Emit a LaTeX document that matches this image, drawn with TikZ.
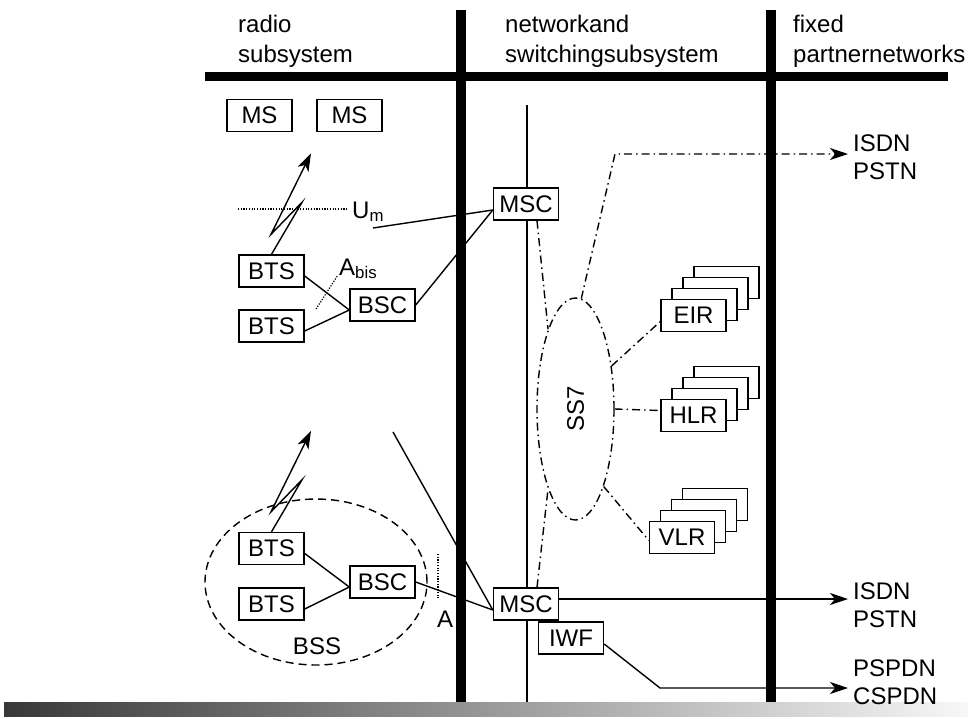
\documentclass[tikz,border=0pt]{standalone}
\usepackage{fontspec}
\setmainfont{Liberation Sans}
\usetikzlibrary{arrows.meta,shapes.geometric}

\begin{document}
\begin{tikzpicture}[
  x=1pt, y=-1pt,
  >={Stealth[length=18pt,width=12pt,inset=5pt]},
  font=\fontsize{24}{28}\selectfont,
  unit/.style={draw, line width=1.4pt, fill=white, minimum width=65pt, minimum height=32pt, inner sep=0pt},
  head/.style={anchor=north west, align=left, inner sep=0pt, font=\fontsize{24}{30}\selectfont},
  ext/.style={anchor=north west, align=left, inner xsep=5pt, inner ysep=0pt},
  lbl/.style={inner sep=0pt},
  bar/.style={line width=9.5pt},
  wire/.style={line width=1.4pt},
  sig/.style={line width=1.4pt, dash pattern=on 8pt off 4pt on 1.5pt off 4pt},
  iface/.style={line width=1.2pt, dash pattern=on 1.2pt off 1.5pt}
]
\useasboundingbox (0,0) rectangle (968,718);

\shade[left color=black!78, right color=black!3] (4,702) rectangle (968,716);

\node[head] (rss) at (238,15) {radio\\subsystem};
\node[head] (nss) at (505,15) {networkand\\switchingsubsystem};
\node[head] (fpn) at (793,15) {fixed\\partnernetworks};

\draw[bar] (205,76.5) -- (948,76.5);
\draw[bar] (461,10) -- (461,702);
\draw[bar] (771,10) -- (771,702);
\draw[wire] (527,105) -- (527,702);

\node[draw, ellipse, line width=1.4pt, dash pattern=on 8pt off 5pt, minimum width=222pt, minimum height=166pt, inner sep=0pt] (bss) at (316,582) {};
\node[lbl] (bsslbl) at (317,646) {BSS};

\node[unit] (ms1) at (259.5,115.5) {MS};
\node[unit] (ms2) at (349.5,115.5) {MS};
\node[unit] (bts1) at (271.5,271) {BTS};
\node[unit] (bts2) at (271.5,326) {BTS};
\node[unit] (bsc1) at (382.5,305) {BSC};
\node[unit] (bts3) at (271.5,548.5) {BTS};
\node[unit] (bts4) at (271.5,604) {BTS};
\node[unit] (bsc2) at (382.5,582) {BSC};
\node[unit] (msc1) at (526,204) {MSC};
\node[unit] (msc2) at (526,604) {MSC};
\node[unit] (iwf) at (571,638) {IWF};

\foreach \k in {3,2,1} {
  \node[unit] (eir\k) at ({693.5+11*\k},{315.5-11*\k}) {};
  \node[unit] (hlr\k) at ({693.5+11*\k},{415.5-11*\k}) {};
  \node[unit] (vlr\k) at ({682+11*\k},{537.5-11*\k}) {};
}
\node[unit] (eir) at (693.5,315.5) {EIR};
\node[unit] (hlr) at (693.5,415.5) {HLR};
\node[unit] (vlr) at (682,537.5) {VLR};

\node[draw, ellipse, sig, minimum width=77pt, minimum height=222pt, inner sep=0pt] (ss7) at (575.5,409) {\rotatebox{90}{SS7}};

\node[ext] (isdn1) at (848,135) {ISDN\\PSTN};
\node[ext] (isdn2) at (848,583) {ISDN\\PSTN};
\node[ext] (pspdn) at (848,660) {PSPDN\\CSPDN};

\draw[wire] ([yshift=-5pt]bts1.east) -- ([yshift=-5pt]bsc1.west);
\draw[wire] ([yshift=-5pt]bts2.east) -- ([yshift=-5pt]bsc1.west);
\draw[wire] ([yshift=-5pt]bts3.east) -- ([yshift=-5pt]bsc2.west);
\draw[wire] ([yshift=-5pt]bts4.east) -- ([yshift=-5pt]bsc2.west);
\draw[wire] (bsc1.east) -- ([yshift=-6pt]msc1.west);
\draw[wire] (bsc2.east) -- ([yshift=-6pt]msc2.west);
\coordinate (far1) at (373,228);
\coordinate (far2) at (393,432);
\draw[wire] (far1) -- ([yshift=-6pt]msc1.west);
\draw[wire] (far2) -- ([yshift=-6pt]msc2.west);
\draw[wire,->] (bts1.north) -- ++(30.5,-52) -- ++(-31,32) -- ++(40,-81);
\draw[wire,->] (bts3.north) -- ++(30.5,-52) -- ++(-31,32) -- ++(40,-81);

\draw[iface] (238,209) -- (348,209);
\node[lbl, anchor=base west] (um) at (352,218) {U\textsubscript{m}};
\draw[iface] (316,309) -- (338,275);
\node[lbl, anchor=base west] (abis) at (339,275) {A\textsubscript{bis}};
\draw[iface] (438,554) -- (438,599);
\node[lbl, anchor=base west] (aif) at (437,627) {A};

\coordinate (sigturn) at (615,154);
\draw[sig] ([xshift=11pt]msc1.south) -- (ss7.109);
\draw[sig] ([xshift=11pt]msc2.north) -- (ss7.251);
\draw[sig,->] (ss7.87) -- (sigturn) -- (sigturn -| isdn1.west);
\draw[sig] (ss7.50) -- ([yshift=-6pt]eir.west);
\draw[sig] (ss7.0) -- ([yshift=5pt]hlr.west);
\draw[sig] (ss7.-70) -- ([yshift=-3pt]vlr.west);

\coordinate (isdnout) at ([yshift=5pt]msc2.east);
\draw[wire,->] (isdnout) -- (isdnout -| isdn2.west);
\coordinate (iwfout) at ([yshift=-6pt]iwf.east);
\coordinate (iwfbend) at (660,688);
\draw[wire,->] (iwfout) -- (iwfbend) -- (iwfbend -| pspdn.west);
\end{tikzpicture}
\end{document}
